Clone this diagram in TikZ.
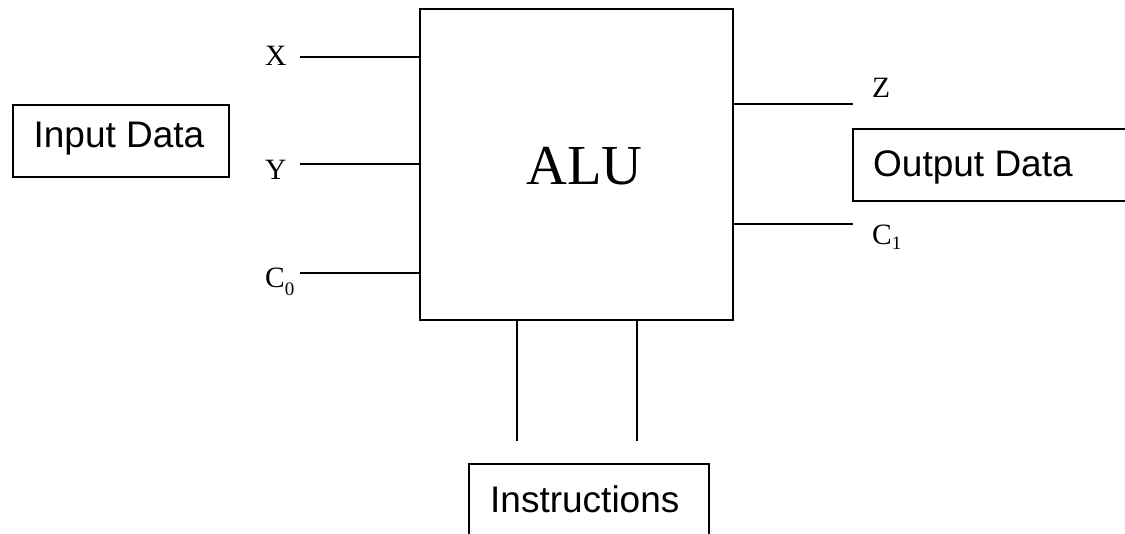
\documentclass[tikz,border=0pt]{standalone}
\usepackage{fontspec}
\setmainfont{Liberation Serif}
\newfontfamily\arialf{Liberation Sans}
\begin{document}
\begin{tikzpicture}[x=1pt,y=-1pt,
  wire/.style={line width=2pt},
  frame/.style={draw, line width=2pt, inner sep=0pt},
  boxtext/.style={font=\arialf\fontsize{37}{41}\selectfont, inner sep=0pt},
  sig/.style={font=\fontsize{29.5}{33}\selectfont, inner sep=0pt, anchor=base west}]
\useasboundingbox (0,0) rectangle (1125,534);
\clip (0,0) rectangle (1125,534);
% boxes
\node[frame, minimum width=313pt, minimum height=311pt] (alu) at (576.5,164.5) {};
\node[font=\fontsize{56.5}{60}\selectfont, inner sep=0pt] (alutext) at (584.5,166) {ALU};
\node[frame, minimum width=216pt, minimum height=72pt] (inbox) at (121,141) {};
\node[boxtext] (intext) at (119,139) {Input Data};
\node[frame, minimum width=297pt, minimum height=72pt] (outbox) at (1001.5,165) {};
\node[boxtext, anchor=base west] (outtext) at (873,177) {Output Data};
\node[frame, minimum width=240pt, minimum height=96pt] (insbox) at (589,512) {};
\node[boxtext, anchor=base west] (instext) at (490,512) {Instructions};
% signal labels
\node[sig] (lx) at (265,66) {X};
\node[sig] (ly) at (265,180) {Y};
\node[sig] (lc0) at (265,288) {C\raisebox{-8pt}{\fontsize{19}{19}\selectfont 0}};
\node[sig] (lz) at (872,98) {Z};
\node[sig] (lc1) at (872,245) {C\raisebox{-5pt}{\fontsize{19}{19}\selectfont 1}};
% wire ends
\coordinate (xin) at (300,57);
\coordinate (yin) at (300,164);
\coordinate (cin) at (300,273);
\coordinate (zout) at (853,104);
\coordinate (cout) at (853,224);
\coordinate (i1) at (517,441);
\coordinate (i2) at (637,441);
% wires
\draw[wire] (xin) -- (xin -| alu.west);
\draw[wire] (yin) -- (yin -| alu.west);
\draw[wire] (cin) -- (cin -| alu.west);
\draw[wire] (zout -| alu.east) -- (zout);
\draw[wire] (cout -| alu.east) -- (cout);
\draw[wire] (i1 |- alu.south) -- (i1);
\draw[wire] (i2 |- alu.south) -- (i2);
\end{tikzpicture}
\end{document}
